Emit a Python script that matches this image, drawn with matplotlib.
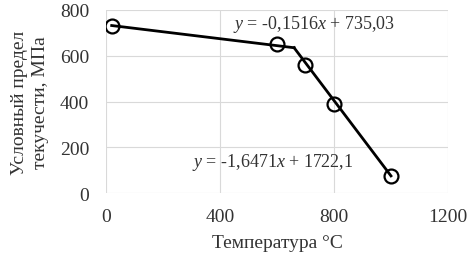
import numpy as np
import matplotlib
matplotlib.use("Agg")
import matplotlib.pyplot as plt

plt.rcParams['font.family'] = ['Liberation Serif', 'DejaVu Serif']
plt.rcParams['mathtext.fontset'] = 'custom'
plt.rcParams['mathtext.rm'] = 'Liberation Serif'
plt.rcParams['mathtext.it'] = 'Liberation Serif:italic'

# measured points
temps = [20, 600, 700, 800, 1000]
sigma = [732, 650, 560, 390, 75]

# piecewise trend lines (from the equations on the chart)
k1, b1 = -0.1516, 735.03
k2, b2 = -1.6471, 1722.1
x_break = (b2 - b1) / (k1 - k2)
seg1_x = np.array([20, x_break])
seg2_x = np.array([x_break, 1000])

x_ticks = [0, 400, 800, 1200]
y_ticks = [0, 200, 400, 600, 800]

txt = '#333333'

fig = plt.figure(figsize=(4.74, 2.55), dpi=100)
ax = fig.add_axes([0.2236, 0.239, 0.7215, 0.718])

ax.plot(seg1_x, k1 * seg1_x + b1, color='black', lw=2, zorder=3)
ax.plot(seg2_x, k2 * seg2_x + b2, color='black', lw=2, zorder=3)
ax.plot(temps, sigma, 'o', ms=10, mfc='none', mec='black', mew=1.6, zorder=4)

ax.set_xlim(0, 1200)
ax.set_ylim(0, 800)
ax.set_xticks(x_ticks)
ax.set_yticks(y_ticks)
ax.grid(True, color='#d9d9d9', lw=0.8)
ax.set_axisbelow(True)
for s in ax.spines.values():
    s.set_visible(False)
ax.tick_params(axis='y', length=0, labelsize=14, colors=txt, pad=12)
ax.tick_params(axis='x', length=0, labelsize=14, colors=txt, pad=11)

ax.set_xlabel('Температура °С', fontsize=14, color=txt, labelpad=6)
ax.set_ylabel('Условный предел\nтекучести, МПа', fontsize=14, color=txt,
              labelpad=8, linespacing=1.3)

ax.text(445, 740, r'$\it{y}$ = -0,1516$\it{x}$ + 735,03', fontsize=13,
        color=txt, va='center')
ax.text(302, 137, r'$\it{y}$ = -1,6471$\it{x}$ + 1722,1', fontsize=13,
        color=txt, va='center')

fig.savefig('out.png', dpi=100)
